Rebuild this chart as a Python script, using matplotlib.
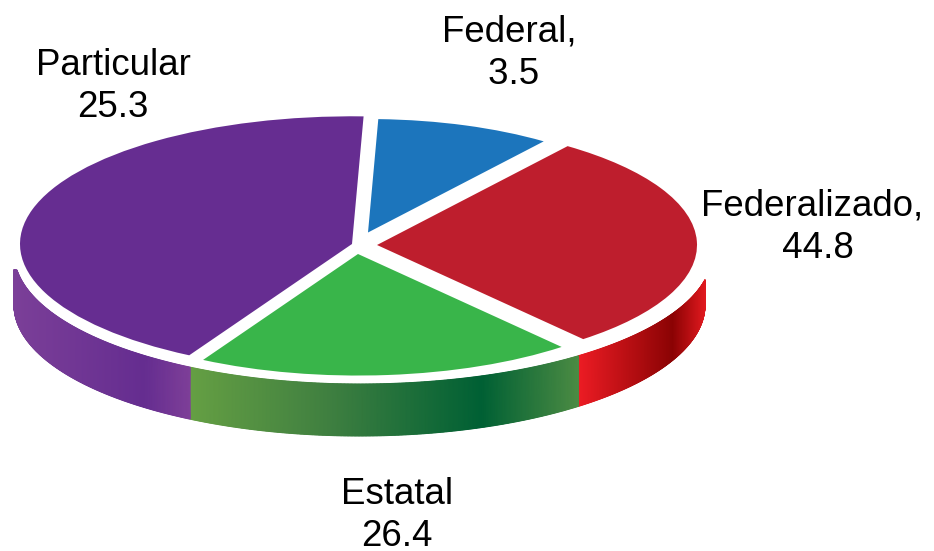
import numpy as np
import matplotlib
matplotlib.use("Agg")
import matplotlib.pyplot as plt
from matplotlib.colors import LinearSegmentedColormap

# Data
categories = ["Federal", "Federalizado", "Estatal", "Particular"]
label_values = ["3.5", "44.8", "26.4", "25.3"]
# Slice sizes as drawn in the picture (%), which differ from the printed labels
drawn_shares = [9.6, 28.7, 19.3, 42.4]

# Styles and layout
top_colors = ["#1c75bc", "#be1e2d", "#39b54a", "#662d91"]
side_stops = {
    "Federalizado": [(0, "#ed1c24"), (0.745, "#8b0304"), (1, "#e0191f")],
    "Estatal": [(0, "#659f43"), (0.36, "#3f7f40"), (0.75, "#006034"), (1, "#4b8b43")],
    "Particular": [(0, "#7b3f98"), (0.74, "#652d90"), (1, "#7e3f98")],
}
SQUASH = 2.6
START = 88.0
SEAM_NUDGE = 0.8
slice_center = {"Federal": (368, 232.5), "Federalizado": (377, 245),
                "Estatal": (358, 254), "Particular": (352, 244)}
slice_radius = {"Federal": 295, "Federalizado": 320, "Estatal": 316, "Particular": 332}
RIM = dict(cx=359.5, cy=253, rx=345.5, ry=131, depth=52, clamp_left=270, clamp_right=280,
           rx_top_right=353)
label_pos = {"Federal": (509, 53), "Federalizado": (812.5, 227),
             "Estatal": (397, 515.5), "Particular": (113, 86.5)}
label_text = {"Federal": "Federal,\n ", "Federalizado": "Federalizado,\n ",
              "Estatal": "Estatal\n", "Particular": "Particular\n"}


def Y(py):
    return -py * SQUASH


fig = plt.figure(figsize=(9.34, 5.51), dpi=100)
ax = fig.add_axes([0, 0, 1, 1])

wedges, _ = ax.pie(drawn_shares, colors=top_colors, startangle=START,
                   counterclock=False, wedgeprops=dict(linewidth=0))
for cat, w in zip(categories, wedges):
    cx, cy = slice_center[cat]
    w.set_center((cx, Y(cy)))
    w.set_radius(slice_radius[cat])
    w.set_zorder(3)

# Side wall, from the same slice angles
edges = START - np.cumsum([0] + drawn_shares) * 3.6
edges[2] -= SEAM_NUDGE
for i, cat in enumerate(categories):
    if cat not in side_stops:
        continue
    a1, a0 = edges[i], edges[i + 1]
    # keep only the front half of the disc
    a0n = a0 % 360
    a1n = a1 % 360
    if a1n <= a0n:
        a1n += 360
    a0n = max(a0n, 180)
    a1n = min(a1n, 360)
    th = np.radians(np.linspace(a0n, a1n, 300))
    x = RIM["cx"] + RIM["rx"] * np.cos(th)
    bottom = RIM["cy"] - RIM["ry"] * np.sin(th) + RIM["depth"]
    rx_top = np.where(x > RIM["cx"], RIM["rx_top_right"], RIM["rx"])
    top = RIM["cy"] + RIM["ry"] * np.sqrt(np.clip(1 - ((x - RIM["cx"]) / rx_top) ** 2, 0, 1))
    clamp = np.where(x < RIM["cx"], RIM["clamp_left"], RIM["clamp_right"])
    top = np.maximum(top, clamp)
    XX = np.vstack([x, x])
    YY = np.vstack([Y(top), Y(bottom)])
    C = (XX - x.min()) / (x.max() - x.min())
    cmap = LinearSegmentedColormap.from_list(cat, side_stops[cat], N=512)
    ax.pcolormesh(XX, YY, C, shading="gouraud", cmap=cmap, vmin=0, vmax=1, zorder=2)

for cat, val in zip(categories, label_values):
    lx, ly = label_pos[cat]
    ax.text(lx, Y(ly), label_text[cat] + val, ha="center", va="center",
            fontsize=26.4, family="Liberation Sans", color="black", linespacing=1.28,
            zorder=5)

ax.set_aspect("auto")
ax.set_xlim(0, 934)
ax.set_ylim(Y(551), Y(0))
ax.axis("off")
fig.savefig("out.png", dpi=100, facecolor="white")
